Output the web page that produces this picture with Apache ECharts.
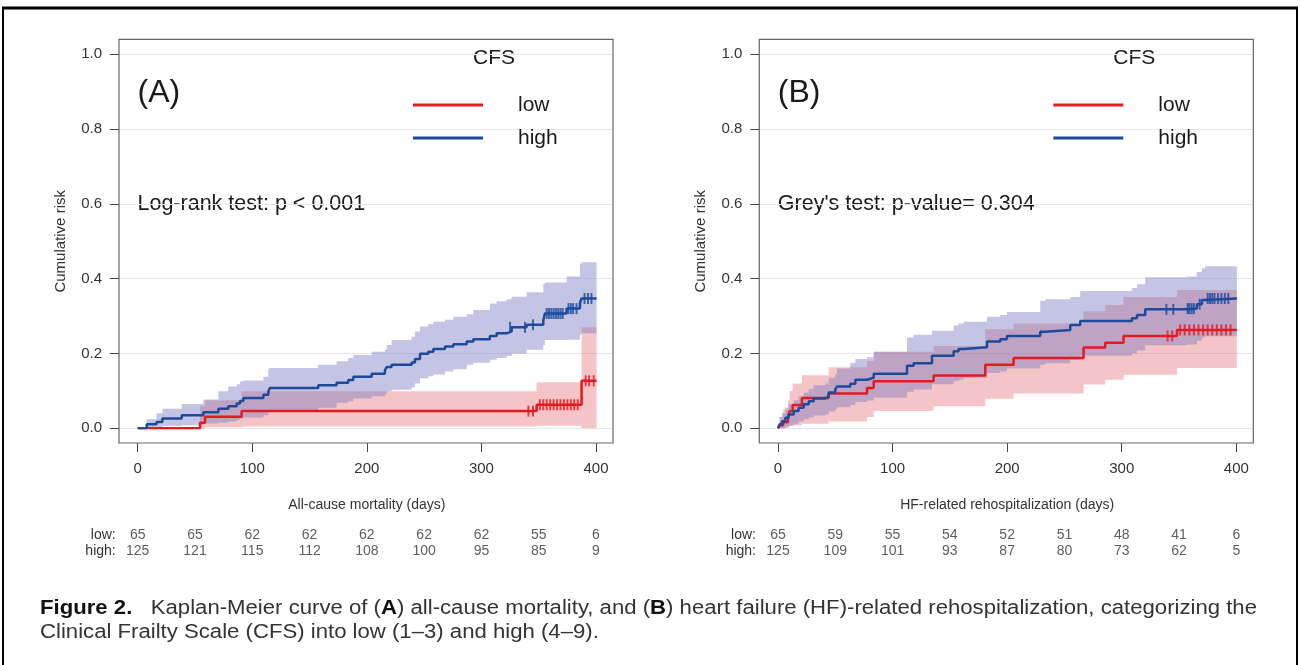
<!DOCTYPE html>
<html>
<head>
<meta charset="utf-8">
<script src="https://cdn.jsdelivr.net/npm/echarts@6/dist/echarts.min.js"></script>
<style>
  html, body { margin: 0; padding: 0; background: #fff; }
  #chart { width: 1300px; height: 665px; }
</style>
</head>
<body>
<div id="chart"></div>
<script>
// ---- data ----
const xTicks = [0, 100, 200, 300, 400];
const yTicks = [0, 0.2, 0.4, 0.6, 0.8, 1.0];
const riskDays = [0, 50, 100, 150, 200, 250, 300, 350, 400];
const riskLowA = [65, 65, 62, 62, 62, 62, 62, 55, 6];
const riskHighA = [125, 121, 115, 112, 108, 100, 95, 85, 9];
const riskLowB = [65, 59, 55, 54, 52, 51, 48, 41, 6];
const riskHighB = [125, 109, 101, 93, 87, 80, 73, 62, 5];

// step curves: [day, estimate, lower CI, upper CI]
const lowA = [
  [0, 0, 0, 0],
  [54.4, 0.015, 0.0, 0.06],
  [58.8, 0.031, 0.003, 0.075],
  [90.7, 0.046, 0.005, 0.099],
  [348.2, 0.063, 0.007, 0.123],
  [387.4, 0.127, 0.0, 0.27],
  [400.5, 0.127, 0.0, 0.27]
];
const highA = [
  [0, 0, 0, 0],
  [7.9, 0.011, 0.0, 0.024],
  [16.4, 0.017, 0.0, 0.04],
  [21.5, 0.026, 0.006, 0.052],
  [38.4, 0.035, 0.008, 0.065],
  [57.3, 0.043, 0.013, 0.077],
  [70.4, 0.052, 0.015, 0.099],
  [79.1, 0.059, 0.018, 0.112],
  [86.4, 0.066, 0.022, 0.118],
  [89.3, 0.073, 0.026, 0.125],
  [92.2, 0.081, 0.029, 0.128],
  [109.7, 0.090, 0.035, 0.138],
  [114, 0.099, 0.042, 0.16],
  [115.5, 0.108, 0.047, 0.161],
  [157.6, 0.115, 0.055, 0.170],
  [173.6, 0.122, 0.068, 0.179],
  [183.8, 0.129, 0.072, 0.188],
  [188.2, 0.138, 0.080, 0.196],
  [204.2, 0.146, 0.086, 0.205],
  [215.8, 0.155, 0.092, 0.211],
  [217.3, 0.164, 0.099, 0.223],
  [221.6, 0.170, 0.103, 0.236],
  [239.1, 0.176, 0.110, 0.245],
  [242, 0.185, 0.120, 0.259],
  [246.4, 0.199, 0.134, 0.272],
  [253.6, 0.205, 0.139, 0.279],
  [258, 0.212, 0.144, 0.285],
  [268.2, 0.219, 0.152, 0.290],
  [275.5, 0.225, 0.158, 0.298],
  [287.1, 0.232, 0.170, 0.305],
  [292.9, 0.238, 0.175, 0.316],
  [307.4, 0.247, 0.183, 0.334],
  [313.3, 0.254, 0.188, 0.340],
  [322, 0.259, 0.193, 0.345],
  [326.4, 0.270, 0.199, 0.352],
  [339.4, 0.277, 0.210, 0.364],
  [354, 0.289, 0.223, 0.386],
  [355.4, 0.307, 0.236, 0.390],
  [374.3, 0.320, 0.237, 0.406],
  [386, 0.335, 0.250, 0.440],
  [387.4, 0.347, 0.254, 0.444],
  [400.5, 0.347, 0.254, 0.444]
];
const lowB = [
  [0, 0, 0, 0],
  [1.5, 0.008, 0, 0.03],
  [4.4, 0.016, 0, 0.05],
  [8.7, 0.031, 0.003, 0.075],
  [10.2, 0.046, 0.006, 0.10],
  [12.8, 0.062, 0.008, 0.12],
  [20.9, 0.081, 0.012, 0.142],
  [44.2, 0.093, 0.018, 0.163],
  [77.7, 0.108, 0.030, 0.180],
  [83.5, 0.126, 0.046, 0.205],
  [135.8, 0.141, 0.059, 0.220],
  [180.9, 0.170, 0.079, 0.265],
  [205.6, 0.188, 0.093, 0.280],
  [266.7, 0.216, 0.117, 0.313],
  [285.6, 0.229, 0.130, 0.330],
  [301.6, 0.247, 0.143, 0.351],
  [348.2, 0.263, 0.161, 0.370],
  [400.5, 0.263, 0.161, 0.370]
];
const highB = [
  [0, 0, 0, 0],
  [1.5, 0.011, 0, 0.03],
  [3.5, 0.019, 0, 0.04],
  [6.4, 0.028, 0.004, 0.055],
  [9.3, 0.037, 0.007, 0.065],
  [13.7, 0.046, 0.012, 0.075],
  [18, 0.055, 0.018, 0.085],
  [22.4, 0.064, 0.024, 0.095],
  [26.8, 0.072, 0.029, 0.105],
  [31.1, 0.080, 0.034, 0.115],
  [41.3, 0.085, 0.037, 0.12],
  [44.2, 0.096, 0.045, 0.135],
  [50, 0.104, 0.05, 0.145],
  [51.5, 0.112, 0.056, 0.16],
  [63.1, 0.119, 0.062, 0.175],
  [67.5, 0.13, 0.07, 0.185],
  [77.7, 0.135, 0.074, 0.19],
  [83.5, 0.146, 0.082, 0.205],
  [112.6, 0.167, 0.098, 0.243],
  [118.4, 0.174, 0.104, 0.25],
  [134.4, 0.194, 0.118, 0.261],
  [153.3, 0.206, 0.126, 0.275],
  [157.6, 0.212, 0.13, 0.28],
  [162, 0.217, 0.135, 0.285],
  [182.4, 0.232, 0.148, 0.298],
  [194, 0.238, 0.152, 0.303],
  [199.8, 0.247, 0.16, 0.311],
  [228.9, 0.258, 0.17, 0.341],
  [233.3, 0.263, 0.174, 0.345],
  [255.1, 0.276, 0.184, 0.351],
  [263.8, 0.287, 0.194, 0.367],
  [308.9, 0.294, 0.2, 0.375],
  [313.3, 0.303, 0.208, 0.385],
  [320.5, 0.318, 0.222, 0.404],
  [356.9, 0.320, 0.224, 0.406],
  [365.6, 0.332, 0.234, 0.418],
  [370, 0.343, 0.243, 0.428],
  [372.9, 0.347, 0.246, 0.433],
  [400.5, 0.347, 0.246, 0.433]
];

// censoring marks [day, estimate]
const censorLowA = [[341, 0.046], [345, 0.046], [351, 0.063], [354, 0.063], [357, 0.063], [360, 0.063], [363, 0.063], [366, 0.063], [369, 0.063], [372, 0.063], [375, 0.063], [378, 0.063], [381, 0.063], [384, 0.063], [391, 0.127], [394, 0.127], [398, 0.127]];
const censorHighA = [[325, 0.27], [338, 0.27], [345, 0.277], [357, 0.307], [359, 0.307], [361, 0.307], [363, 0.307], [365, 0.307], [367, 0.307], [369, 0.307], [371, 0.307], [376, 0.32], [378, 0.32], [380, 0.32], [383, 0.32], [390, 0.347], [393, 0.347], [396, 0.347]];
const censorLowB = [[340, 0.247], [344, 0.247], [351, 0.263], [355, 0.263], [359, 0.263], [363, 0.263], [367, 0.263], [371, 0.263], [375, 0.263], [379, 0.263], [383, 0.263], [387, 0.263], [391, 0.263], [395, 0.263]];
const censorHighB = [[339, 0.318], [345, 0.318], [357.5, 0.32], [359, 0.32], [361, 0.32], [363, 0.32], [368, 0.332], [375, 0.347], [377, 0.347], [379, 0.347], [381, 0.347], [384, 0.347], [387, 0.347], [390, 0.347], [393, 0.347]];

// ---- layout ----
const FONT = '"Liberation Sans", Arial, Helvetica, sans-serif';
const RED = '#e41a1f';
const BLUE = '#1c4b9b';
const BOX_W = 494, BOX_TOP = 39.3, BOX_BOTTOM = 443;
const Y_TOP = 54.3, Y_H = 374;          // y = 1.0 .. 0.0
const X_OFF = 18.7, X_W = 458.3;        // x = 0 .. 400 inside the box
const PX_PER_DAY = X_W / 400;
const XMIN = -X_OFF / PX_PER_DAY;
const XMAX = 400 + (BOX_W - X_OFF - X_W) / PX_PER_DAY;

const panels = [
  { left: 119, low: lowA, high: highA, cLow: censorLowA, cHigh: censorHighA,
    rLow: riskLowA, rHigh: riskHighA, xName: 'All-cause mortality (days)',
    tag: '(A)', test: 'Log-rank test: p < 0.001' },
  { left: 759.3, low: lowB, high: highB, cLow: censorLowB, cHigh: censorHighB,
    rLow: riskLowB, rHigh: riskHighB, xName: 'HF-related rehospitalization (days)',
    tag: '(B)', test: "Grey's test: p-value= 0.304" }
];

const grid = [], xAxis = [], yAxis = [], series = [], legend = [], graphic = [];

// confidence band as one stepped polygon (upper edge forward, lower edge back)
function band(arr, color, opacity, gi) {
  return {
    type: 'custom', xAxisIndex: gi, yAxisIndex: gi, silent: true, z: 2,
    data: arr.map(r => [r[0], r[2], r[3]]),
    renderItem: function (params, api) {
      if (params.dataIndex !== 0) return null;
      const pts = [];
      for (let i = 0; i < arr.length - 1; i++) {
        pts.push(api.coord([arr[i][0], arr[i][3]]));
        pts.push(api.coord([arr[i + 1][0], arr[i][3]]));
      }
      for (let i = arr.length - 2; i >= 0; i--) {
        pts.push(api.coord([arr[i + 1][0], arr[i][2]]));
        pts.push(api.coord([arr[i][0], arr[i][2]]));
      }
      return { type: 'polygon', shape: { points: pts }, style: { fill: color, opacity: opacity } };
    }
  };
}

panels.forEach((p, k) => {
  const gD = 3 * k, gT = 3 * k + 1, gR = 3 * k + 2;
  // data grid: full box width, y from 0 to 1
  grid.push({ left: p.left, top: Y_TOP, width: BOX_W, height: Y_H });
  xAxis.push({ gridIndex: gD, type: 'value', min: XMIN, max: XMAX, show: false });
  yAxis.push({ gridIndex: gD, type: 'value', min: 0, max: 1, interval: 0.2,
    axisLine: { show: false, onZero: false },
    axisTick: { show: true, length: 9, lineStyle: { color: '#444', width: 1 } },
    axisLabel: { margin: 17, fontSize: 15, color: '#333', fontFamily: FONT, formatter: v => v.toFixed(1) },
    splitLine: { show: true, lineStyle: { color: '#e6e6e6', width: 1 } },
    name: 'Cumulative risk', nameLocation: 'middle', nameGap: 51,
    nameTextStyle: { fontSize: 15, color: '#333', fontFamily: FONT } });

  // tick grid for the x axis
  grid.push({ left: p.left + X_OFF, top: Y_TOP, width: X_W, height: Y_H });
  xAxis.push({ gridIndex: gT, type: 'value', min: 0, max: 400, interval: 100, offset: BOX_BOTTOM - (Y_TOP + Y_H),
    axisLine: { show: false, onZero: false },
    axisTick: { show: true, length: 9, lineStyle: { color: '#444', width: 1 } },
    axisLabel: { margin: 18, fontSize: 15, color: '#333', fontFamily: FONT },
    splitLine: { show: false },
    name: p.xName, nameLocation: 'middle', nameGap: 55,
    nameTextStyle: { fontSize: 14, color: '#333', fontFamily: FONT } });
  yAxis.push({ gridIndex: gT, type: 'value', min: 0, max: 1, show: false });

  // risk table grid
  grid.push({ left: p.left + X_OFF, top: 527, width: X_W, height: 32 });
  xAxis.push({ gridIndex: gR, type: 'value', min: 0, max: 400, show: false });
  yAxis.push({ gridIndex: gR, type: 'category', data: ['low', 'high'], inverse: true,
    axisLine: { show: false, onZero: false }, axisTick: { show: false }, splitLine: { show: false },
    axisLabel: { interval: 0, margin: 22, fontSize: 14, color: '#333', fontFamily: FONT, formatter: v => v + ':' } });

  series.push(band(p.low, 'rgb(226,86,92)', 0.35, gD));
  series.push(band(p.high, 'rgb(124,124,195)', 0.45, gD));

  series.push({ type: 'line', name: 'low', xAxisIndex: gD, yAxisIndex: gD, step: 'end', symbol: 'none',
    data: p.low.map(r => [r[0], r[1]]), lineStyle: { color: RED, width: 2.5 }, itemStyle: { color: RED }, z: 4 });
  series.push({ type: 'line', name: 'high', xAxisIndex: gD, yAxisIndex: gD, step: 'end', symbol: 'none',
    data: p.high.map(r => [r[0], r[1]]), lineStyle: { color: BLUE, width: 2.5 }, itemStyle: { color: BLUE }, z: 4 });
  series.push({ type: 'scatter', xAxisIndex: gD, yAxisIndex: gD, symbol: 'rect', symbolSize: [2, 11],
    data: p.cLow, itemStyle: { color: RED }, silent: true, z: 5 });
  series.push({ type: 'scatter', xAxisIndex: gD, yAxisIndex: gD, symbol: 'rect', symbolSize: [2, 11],
    data: p.cHigh, itemStyle: { color: BLUE }, silent: true, z: 5 });

  // numbers at risk
  const rows = [['low', p.rLow], ['high', p.rHigh]];
  rows.forEach(([row, vals]) => {
    series.push({ type: 'scatter', xAxisIndex: gR, yAxisIndex: gR, symbolSize: 1, silent: true,
      itemStyle: { color: 'transparent' },
      data: riskDays.map((d, i) => [d, row, vals[i]]),
      label: { show: true, position: 'inside', formatter: q => String(q.value[2]),
        fontSize: 14, color: '#333', fontFamily: FONT } });
  });

  legend.push({ left: p.left + 289, top: 89, orient: 'vertical', data: ['low', 'high'],
    icon: 'rect', itemWidth: 70, itemHeight: 3, itemGap: 11, selectedMode: false,
    textStyle: { fontSize: 21, color: '#1a1a1a', fontFamily: FONT, padding: [0, 0, 0, 30], lineHeight: 22 } });

  // plot frame
  graphic.push({ type: 'rect', shape: { x: p.left, y: BOX_TOP, width: BOX_W, height: BOX_BOTTOM - BOX_TOP },
    style: { fill: 'none', stroke: '#666', lineWidth: 1.2 }, z: 10, silent: true });
  graphic.push({ type: 'text', x: p.left + 18.5, y: 93, style: { text: p.tag, font: '32px ' + FONT, fill: '#1a1a1a', verticalAlign: 'middle' } });
  graphic.push({ type: 'text', x: p.left + 375, y: 58, style: { text: 'CFS', font: '21px ' + FONT, fill: '#1a1a1a', align: 'center', verticalAlign: 'middle' } });
  graphic.push({ type: 'text', x: p.left + 18.5, y: 204, style: { text: p.test, font: '21.5px ' + FONT, fill: '#1a1a1a', verticalAlign: 'middle' } });
});

// caption, fitted to the justified line width of the original
const CAP_SIZE = 19.5;
const cap1a = 'Figure 2.';
const cap1b = '   Kaplan-Meier curve of (';
const cap1c = ') all-cause mortality, and (';
const cap1d = ') heart failure (HF)-related rehospitalization, categorizing the';
const cap2 = 'Clinical Frailty Scale (CFS) into low (1\u20133) and high (4\u20139).';
const ctx = document.createElement('canvas').getContext('2d');
function tw(t, bold) { ctx.font = (bold ? 'bold ' : '') + CAP_SIZE + 'px ' + FONT; return ctx.measureText(t).width; }
const capW = tw(cap1a, true) + tw(cap1b) + tw('A', true) + tw(cap1c) + tw('B', true) + tw(cap1d);
const capScale = (1257 - 40) / capW;
const capRich = {
  f: { fontWeight: 'bold', fontSize: CAP_SIZE, fontFamily: FONT, fill: '#111' },
  t: { fontSize: CAP_SIZE, fontFamily: FONT, fill: '#333' },
  b: { fontWeight: 'bold', fontSize: CAP_SIZE, fontFamily: FONT, fill: '#111' }
};
graphic.push({ type: 'text', x: 40, y: 609, scaleX: capScale, style: {
  text: '{f|' + cap1a + '}{t|' + cap1b + '}{b|A}{t|' + cap1c + '}{b|B}{t|' + cap1d + '}',
  rich: capRich, verticalAlign: 'middle' } });
graphic.push({ type: 'text', x: 40, y: 633, scaleX: capScale, style: {
  text: '{t|' + cap2 + '}', rich: capRich, verticalAlign: 'middle' } });

// outer figure frame
graphic.push({ type: 'line', shape: { x1: 2, y1: 8, x2: 1298, y2: 8 }, style: { stroke: '#000', lineWidth: 3 } });
graphic.push({ type: 'line', shape: { x1: 3, y1: 8, x2: 3, y2: 665 }, style: { stroke: '#000', lineWidth: 2 } });
graphic.push({ type: 'line', shape: { x1: 1297, y1: 8, x2: 1297, y2: 665 }, style: { stroke: '#000', lineWidth: 2 } });

const chart = echarts.init(document.getElementById('chart'));
chart.setOption({
  animation: false,
  backgroundColor: '#fff',
  textStyle: { fontFamily: FONT },
  grid, xAxis, yAxis, series, legend, graphic
});
</script>
</body>
</html>
